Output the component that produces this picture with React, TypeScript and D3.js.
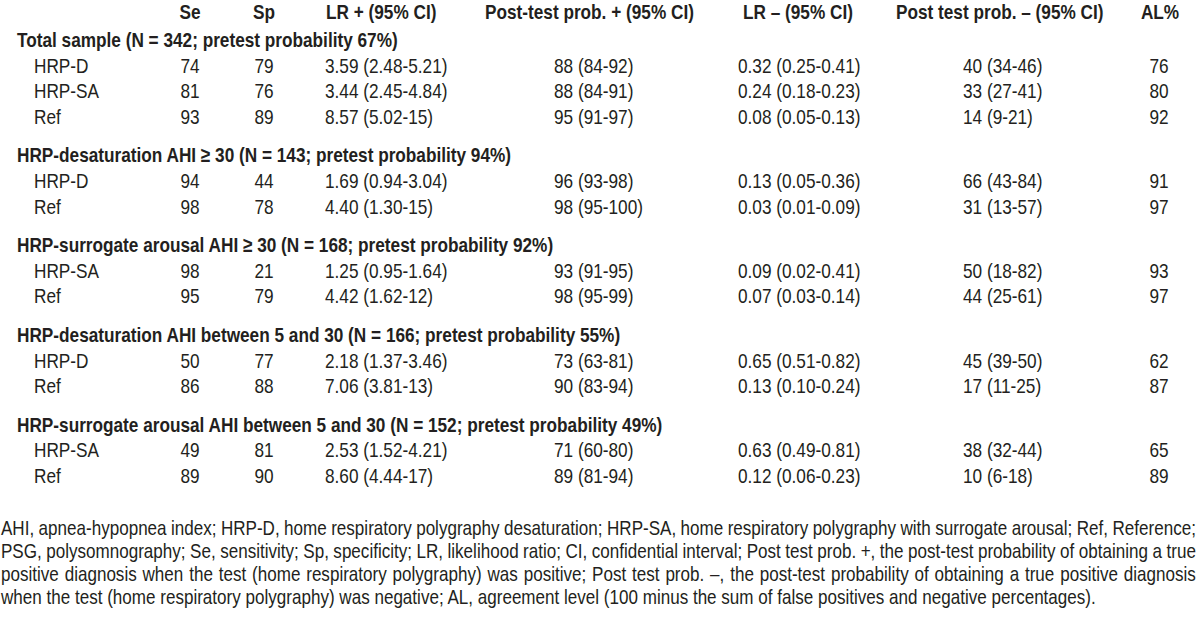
import React, { useMemo } from 'react';
import * as d3 from 'd3';

// table content
const headers = ['Se', 'Sp', 'LR + (95% CI)', 'Post-test prob. + (95% CI)', 'LR – (95% CI)', 'Post test prob. – (95% CI)', 'AL%'];

const groupTitles = [
  'Total sample (N = 342; pretest probability 67%)',
  'HRP-desaturation AHI ≥ 30 (N = 143; pretest probability 94%)',
  'HRP-surrogate arousal AHI ≥ 30 (N = 168; pretest probability 92%)',
  'HRP-desaturation AHI between 5 and 30 (N = 166; pretest probability 55%)',
  'HRP-surrogate arousal AHI between 5 and 30 (N = 152; pretest probability 49%)',
];

const rowGroup = [0, 0, 0, 1, 1, 2, 2, 3, 3, 4, 4];
const rowLabels = ['HRP-D', 'HRP-SA', 'Ref', 'HRP-D', 'Ref', 'HRP-SA', 'Ref', 'HRP-D', 'Ref', 'HRP-SA', 'Ref'];
const se = [74, 81, 93, 94, 98, 98, 95, 50, 86, 49, 89];
const sp = [79, 76, 89, 44, 78, 21, 79, 77, 88, 81, 90];
const lrPos = ['3.59 (2.48-5.21)', '3.44 (2.45-4.84)', '8.57 (5.02-15)', '1.69 (0.94-3.04)', '4.40 (1.30-15)', '1.25 (0.95-1.64)', '4.42 (1.62-12)', '2.18 (1.37-3.46)', '7.06 (3.81-13)', '2.53 (1.52-4.21)', '8.60 (4.44-17)'];
const postPos = ['88 (84-92)', '88 (84-91)', '95 (91-97)', '96 (93-98)', '98 (95-100)', '93 (91-95)', '98 (95-99)', '73 (63-81)', '90 (83-94)', '71 (60-80)', '89 (81-94)'];
const lrNeg = ['0.32 (0.25-0.41)', '0.24 (0.18-0.23)', '0.08 (0.05-0.13)', '0.13 (0.05-0.36)', '0.03 (0.01-0.09)', '0.09 (0.02-0.41)', '0.07 (0.03-0.14)', '0.65 (0.51-0.82)', '0.13 (0.10-0.24)', '0.63 (0.49-0.81)', '0.12 (0.06-0.23)'];
const postNeg = ['40 (34-46)', '33 (27-41)', '14 (9-21)', '66 (43-84)', '31 (13-57)', '50 (18-82)', '44 (25-61)', '45 (39-50)', '17 (11-25)', '38 (32-44)', '10 (6-18)'];
const al = [76, 80, 92, 91, 97, 93, 97, 62, 87, 65, 89];

const footnote = [
  'AHI, apnea-hypopnea index; HRP-D, home respiratory polygraphy desaturation; HRP-SA, home respiratory polygraphy with surrogate arousal; Ref, Reference;',
  'PSG, polysomnography; Se, sensitivity; Sp, specificity; LR, likelihood ratio; CI, confidential interval; Post test prob. +, the post-test probability of obtaining a true',
  'positive diagnosis when the test (home respiratory polygraphy) was positive; Post test prob. –, the post-test probability of obtaining a true positive diagnosis',
  'when the test (home respiratory polygraphy) was negative; AL, agreement level (100 minus the sum of false positives and negative percentages).',
];

const W = 1200;
const H = 622;
const FONT = "'Liberation Sans', Arial, sans-serif";
const SX = 0.82; // fake a narrow face
const INK = '#231f20';
const FOOT_SIZE = 20.8;
const FOOT_W = 1195;

const colKeys = ['se', 'sp', 'lrPos', 'postPos', 'lrNeg', 'postNeg', 'al'];
// header x / value x / anchor
const headX = d3.scaleOrdinal<string, number>().domain(colKeys).range([190, 264, 326, 485, 743, 896, 1160]);
const valX = d3.scaleOrdinal<string, number>().domain(colKeys).range([190, 264, 325, 554, 738, 963, 1159]);
const anchorOf = d3.scaleOrdinal<string, string>().domain(colKeys).range(['middle', 'middle', 'start', 'start', 'start', 'start', 'middle']);

const Txt = (p: { x: number; y: number; anchor?: string; bold?: boolean; size?: number; ws?: number; children: React.ReactNode }) => (
  <text
    transform={`translate(${p.x},${p.y}) scale(${SX},1)`}
    textAnchor={p.anchor || 'start'}
    fontWeight={p.bold ? 'bold' : 'normal'}
    fontSize={p.size || 21}
    fontFamily={FONT}
    fill={INK}
    style={p.ws ? { wordSpacing: `${p.ws}px` } : undefined}
  >
    {p.children}
  </text>
);

export default function App() {
  // vertical layout units: title row, data rows, 1.5 gap between groups
  const titleU: number[] = [];
  const rowU: number[] = [];
  let u = 0;
  groupTitles.forEach((_, g) => {
    titleU.push(u);
    rowGroup.forEach((rg, i) => {
      if (rg === g) {
        u += 1;
        rowU[i] = u;
      }
    });
    u += 1.5;
  });
  const y = d3.scaleLinear().domain([0, 17]).range([47, 483]);
  const headY = y(-1.08);

  const cols: Record<string, (string | number)[]> = { se, sp, lrPos, postPos, lrNeg, postNeg, al };

  const footY = d3.scaleLinear().domain([0, 3]).range([535, 604]);

  // justify the footnote through the word gaps (may tighten them); last line ragged
  const wordSpacing = useMemo(() => {
    const ctx = document.createElement('canvas').getContext('2d');
    if (!ctx) return footnote.map(() => 0);
    ctx.font = `${FOOT_SIZE}px 'Liberation Sans'`;
    return footnote.map((line, i) => {
      if (i === footnote.length - 1) return 0;
      const natural = ctx.measureText(line).width;
      const gaps = line.split(' ').length - 1;
      return (FOOT_W / SX - natural) / gaps;
    });
  }, []);

  return (
    <svg width={W} height={H} style={{ position: 'absolute', left: 0, top: 0, background: '#fff' }}>
      <rect width={W} height={H} fill="#fff" />
      {colKeys.map((k, i) => (
        <Txt key={k} x={headX(k)} y={headY} anchor={anchorOf(k)} bold>
          {headers[i]}
        </Txt>
      ))}
      {groupTitles.map((t, g) => (
        <Txt key={t} x={17} y={y(titleU[g])} bold>
          {t}
        </Txt>
      ))}
      {rowLabels.map((lab, i) => (
        <g key={i}>
          <Txt x={34} y={y(rowU[i])}>{lab}</Txt>
          {colKeys.map((k) => (
            <Txt key={k} x={valX(k)} y={y(rowU[i])} anchor={anchorOf(k)}>
              {cols[k][i]}
            </Txt>
          ))}
        </g>
      ))}
      {footnote.map((line, i) => (
        <Txt key={i} x={1} y={footY(i)} size={FOOT_SIZE} ws={wordSpacing[i]}>
          {line}
        </Txt>
      ))}
    </svg>
  );
}
